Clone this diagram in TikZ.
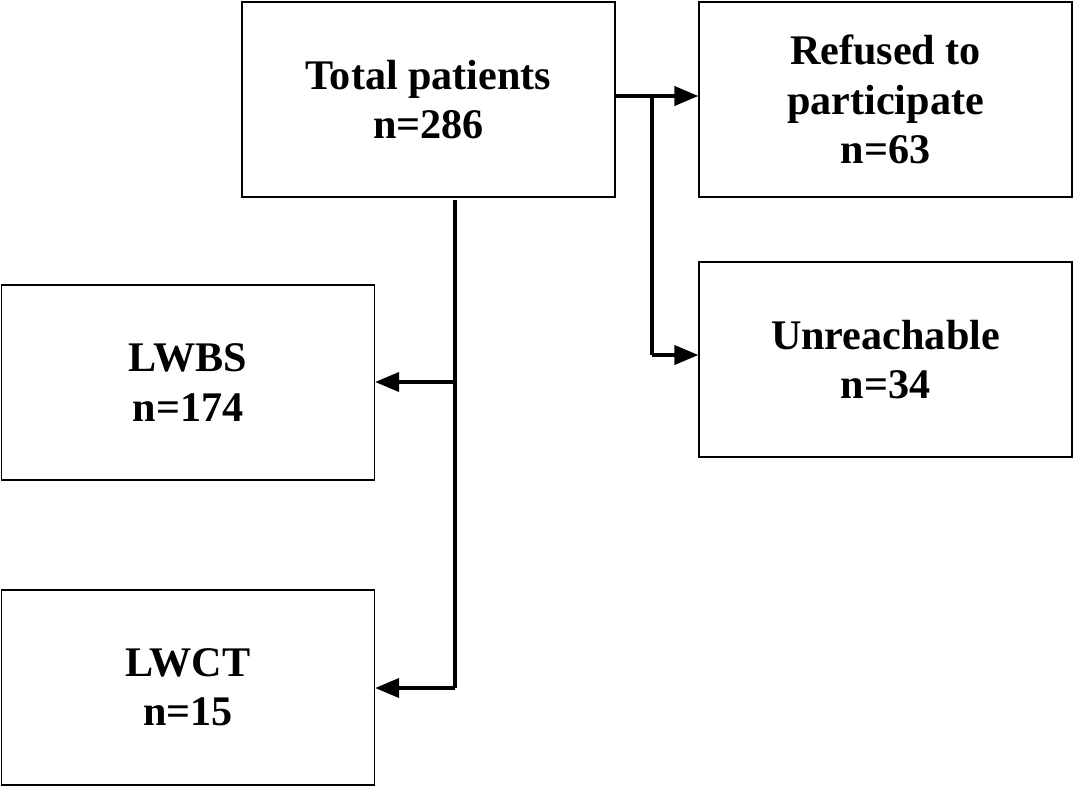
\documentclass[tikz,border=0pt]{standalone}
\usepackage{fontspec}
\setmainfont{Liberation Serif}
\usetikzlibrary{arrows,positioning}
\tikzset{%
    entity/.style={%
      draw, line width=1pt, minimum width=7.46cm, minimum height=3.9cm,
      align=center, font=\fontsize{24}{28}\selectfont\bfseries
    },
    com/.style={%
      -triangle 45, line width=2.2pt
    },
    link/.style={%
      line width=2.2pt
    },
}
\begin{document}
\begin{tikzpicture}
    \useasboundingbox (0,0) rectangle (21.5,-15.78);

    \node[entity] (total) at (8.57,-1.99) {Total patients\\n=286};
    \node[entity] (refused) at (17.71,-1.99) {Refused to\\participate\\n=63};
    \node[entity] (unreach) at (17.71,-7.19) {Unreachable\\n=34};
    \node[entity] (lwbs) at (3.76,-7.65) {LWBS\\n=174};
    \node[entity] (lwct) at (3.76,-13.75) {LWCT\\n=15};

    \coordinate (split) at (13.04,-1.92);
    \coordinate (turn) at (13.04,-7.1);
    \coordinate (top) at (9.1,-4.0);
    \coordinate (mid) at (9.1,-7.64);
    \coordinate (bot) at (9.1,-13.76);

    \draw[com] (total.east |- split) -- (refused.west |- split);
    \draw[link] (split) -- (turn);
    \draw[com] (turn) -- (unreach.west |- turn);

    \draw[link] (top) -- (bot);
    \draw[com] (mid) -- (lwbs.east |- mid);
    \draw[com] (bot) -- (lwct.east |- bot);
\end{tikzpicture}
\end{document}
